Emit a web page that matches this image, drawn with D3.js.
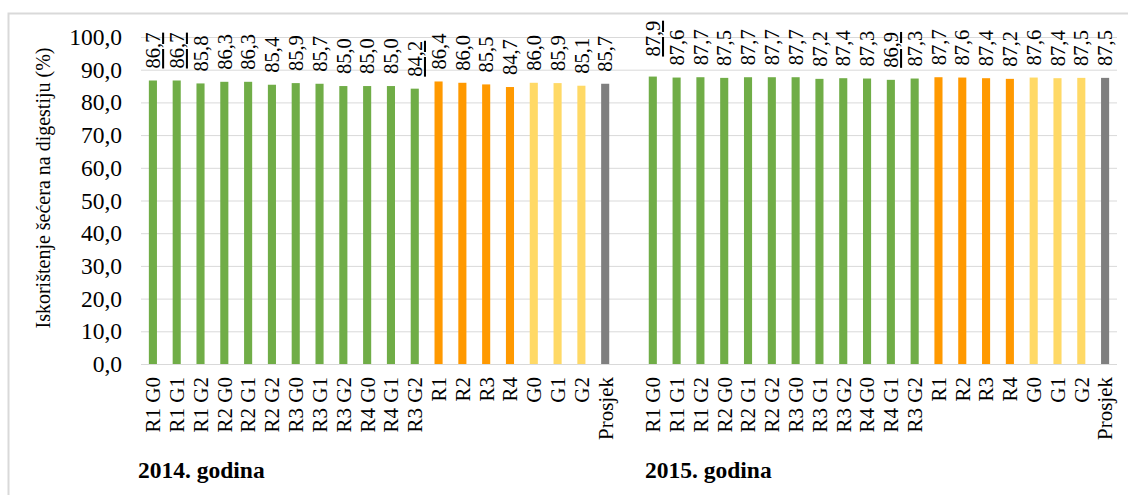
<!DOCTYPE html>
<html>
<head>
<meta charset="utf-8">
<script src="https://cdn.jsdelivr.net/npm/d3@7/dist/d3.min.js"></script>
<style>
  html, body { margin: 0; padding: 0; background: #fff; }
  svg { display: block; }
  svg text { font-family: "Liberation Serif", "Tinos", "Times New Roman", "DejaVu Serif", serif; }
</style>
</head>
<body>
<svg id="chart"></svg>
<script>
// podaci s grafa
const labels2014 = ["R1 G0", "R1 G1", "R1 G2", "R2 G0", "R2 G1", "R2 G2", "R3 G0", "R3 G1", "R3 G2",
  "R4 G0", "R4 G1", "R3 G2", "R1", "R2", "R3", "R4", "G0", "G1", "G2", "Prosjek"];
const values2014 = [86.7, 86.7, 85.8, 86.3, 86.3, 85.4, 85.9, 85.7, 85.0, 85.0, 85.0, 84.2,
  86.4, 86.0, 85.5, 84.7, 86.0, 85.9, 85.1, 85.7];
const labels2015 = ["R1 G0", "R1 G1", "R1 G2", "R2 G0", "R2 G1", "R2 G2", "R3 G0", "R3 G1", "R3 G2",
  "R4 G0", "R4 G1", "R3 G2", "R1", "R2", "R3", "R4", "G0", "G1", "G2", "Prosjek"];
const values2015 = [87.9, 87.6, 87.7, 87.5, 87.7, 87.7, 87.7, 87.2, 87.4, 87.3, 86.9, 87.3,
  87.7, 87.6, 87.4, 87.2, 87.6, 87.4, 87.5, 87.5];
// vrsta stupca: kombinacija, R, G ili prosjek
const kinds = ["RG", "RG", "RG", "RG", "RG", "RG", "RG", "RG", "RG", "RG", "RG", "RG",
  "R", "R", "R", "R", "G", "G", "G", "P"];
const yTicks = [0, 10, 20, 30, 40, 50, 60, 70, 80, 90, 100];
const years = ["2014. godina", "2015. godina"];
const yTitle = "Iskorištenje šećera na digestiju (%)";

const colors = { RG: "#70ad47", R: "#ff9900", G: "#ffd966", P: "#7f7f7f" };

let width = 1128;
let height = 495;
let plotLeft = 141, plotRight = 1117, plotTop = 37, plotBottom = 364;

let svg = d3.select("#chart").attr("width", width).attr("height", height);

// okvir grafikona
svg.append("rect")
  .attr("x", 8.5).attr("y", 13.5)
  .attr("width", 1140).attr("height", 500)
  .attr("fill", "#fff")
  .attr("stroke", "#d9d9d9")
  .attr("stroke-width", 2);

// 2014 | prazno mjesto | 2015
const slots = [];
labels2014.forEach((l, i) => slots.push({ label: l, value: values2014[i], kind: kinds[i] }));
slots.push(null);
labels2015.forEach((l, i) => slots.push({ label: l, value: values2015[i], kind: kinds[i] }));

let scaleX = d3.scaleBand()
  .domain(d3.range(slots.length))
  .range([plotLeft, plotRight])
  .paddingInner(0.66)
  .paddingOuter(0.33);

let scaleY = d3.scaleLinear()
  .domain([0, 100])
  .range([plotBottom, plotTop]);

const hr = d3.formatLocale({ decimal: ",", thousands: ".", grouping: [3], currency: ["", " kn"] });
const fmt = hr.format(".1f");

// os Y s mrežom
let gy = svg.append("g")
  .attr("transform", `translate(${plotLeft},0)`)
  .call(d3.axisLeft(scaleY)
    .tickValues(yTicks)
    .tickSize(-(plotRight - plotLeft))
    .tickPadding(19)
    .tickFormat(fmt));
gy.attr("font-family", null);
gy.select(".domain").remove();
gy.selectAll(".tick line").attr("stroke", "#d9d9d9").attr("stroke-width", 1);
gy.selectAll(".tick text")
  .attr("fill", "#000")
  .style("font-size", "23.5px");

// os X
let gx = svg.append("g")
  .attr("transform", `translate(0,${plotBottom})`)
  .call(d3.axisBottom(scaleX)
    .tickSize(0)
    .tickFormat(i => slots[i] ? slots[i].label : ""));
gx.attr("font-family", null);
gx.select(".domain").remove();
gx.selectAll(".tick text")
  .attr("fill", "#000")
  .attr("transform", "rotate(-90)")
  .attr("x", -13)
  .attr("y", 0)
  .attr("dy", "0.35em")
  .style("text-anchor", "end")
  .style("font-size", "21px");

const bars = slots.map((s, i) => s ? { ...s, idx: i } : null).filter(d => d);

// stupci
svg.append("g")
  .selectAll("rect")
  .data(bars)
  .enter().append("rect")
  .attr("x", d => scaleX(d.idx))
  .attr("width", scaleX.bandwidth())
  .attr("y", d => scaleY(d.value))
  .attr("height", d => scaleY(0) - scaleY(d.value))
  .attr("fill", d => colors[d.kind]);

// oznake vrijednosti (neke su podcrtane kao u originalu, 87,9 je ručno pomaknuta)
const underlined = { 0: "solid", 1: "solid", 11: "dotted", 21: "solid", 31: "dotted" };
const lift = { 21: 8 };
svg.append("g")
  .selectAll("text")
  .data(bars)
  .enter().append("text")
  .attr("transform", d => `translate(${scaleX(d.idx) + scaleX.bandwidth() / 2},${scaleY(d.value) - 12 - (lift[d.idx] || 0)}) rotate(-90)`)
  .attr("dy", "0.35em")
  .style("font-size", "20.5px")
  .style("text-decoration", d => underlined[d.idx] ? "underline" : "none")
  .style("text-decoration-style", d => underlined[d.idx] || "solid")
  .style("text-decoration-color", d => underlined[d.idx] === "dotted" ? "#808080" : "#404040")
  .attr("fill", "#000")
  .text(d => fmt(d.value));

// naslov osi Y
svg.append("text")
  .attr("transform", "translate(50,188) rotate(-90)")
  .attr("text-anchor", "middle")
  .style("font-size", "20px")
  .attr("fill", "#000")
  .text(yTitle);

// godine
svg.selectAll(".year")
  .data(years)
  .enter().append("text")
  .attr("class", "year")
  .attr("x", (d, i) => i === 0 ? 138 : 645)
  .attr("y", 478)
  .style("font-size", "23.5px")
  .style("font-weight", "bold")
  .attr("fill", "#000")
  .text(d => d);
</script>
</body>
</html>
